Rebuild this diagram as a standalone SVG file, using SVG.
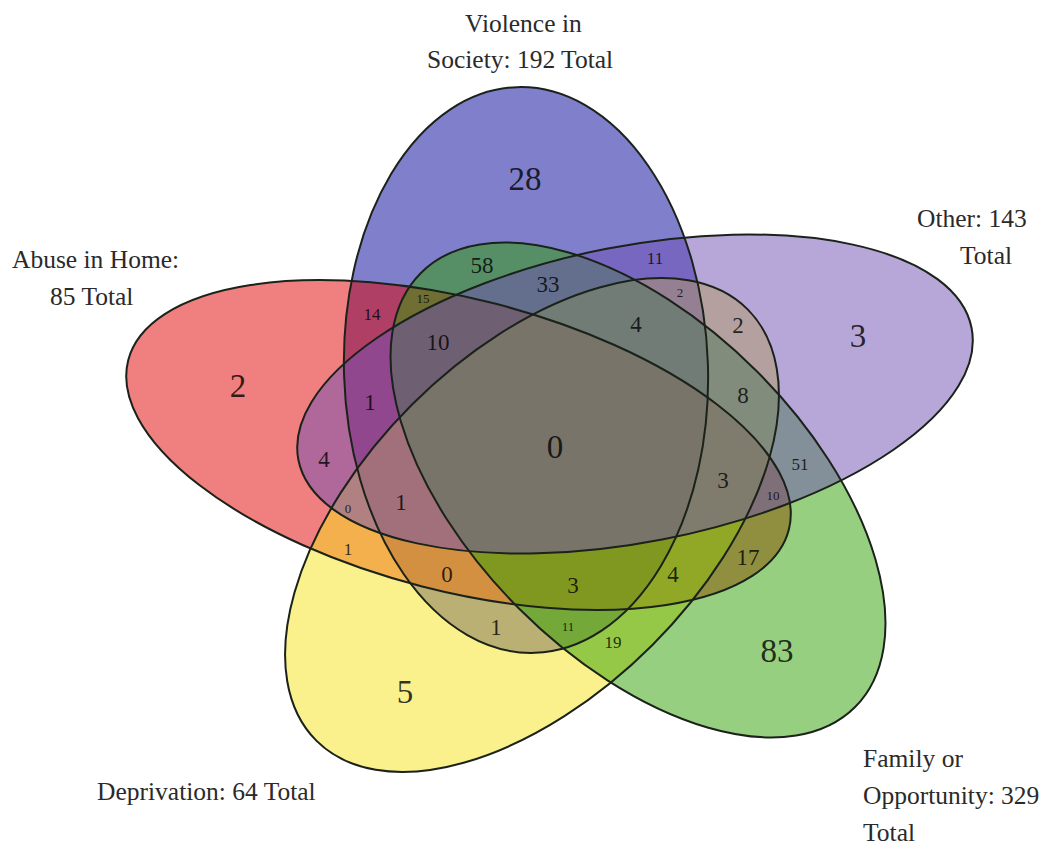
<svg xmlns="http://www.w3.org/2000/svg" width="1048" height="846" viewBox="0 0 1048 846">
<style>
.fill{stroke:none;fill-opacity:0.5}
.outline{fill:none;stroke:#1a221a;stroke-width:2}
.lbl{font-family:"Liberation Serif","Times New Roman",serif;font-size:25.5px;fill:#2a2a2a}
.n{font-family:"Liberation Serif","Times New Roman",serif;fill:#000;fill-opacity:0.8;text-anchor:middle}
.xl{font-size:33px}
.md{font-size:23px}
.sm{font-size:17px}
.xs{font-size:13px}
</style>
<defs>
<ellipse id="e-violence" cx="526" cy="370" rx="182" ry="283" transform="rotate(-1.8 526 370)"/>
<ellipse id="e-abuse" cx="458.5" cy="445" rx="341" ry="146" transform="rotate(14.4 458.5 445)"/>
<ellipse id="e-deprivation" cx="532" cy="525" rx="305" ry="170" transform="rotate(-45 532 525)"/>
<ellipse id="e-family" cx="638" cy="490" rx="307" ry="168" transform="rotate(45 638 490)"/>
<ellipse id="e-other" cx="635" cy="394" rx="343" ry="148" transform="rotate(-11.1 635 394)"/>
</defs>
<rect width="1048" height="846" fill="#ffffff"/>
<g id="violence-in-society">
<use href="#e-violence" class="fill" fill="#00009a"/>
</g>
<g id="abuse-in-home">
<use href="#e-abuse" class="fill" fill="#e10000"/>
</g>
<g id="deprivation">
<use href="#e-deprivation" class="fill" fill="#f5e119"/>
</g>
<g id="family-or-opportunity">
<use href="#e-family" class="fill" fill="#2da000"/>
</g>
<g id="other">
<use href="#e-other" class="fill" fill="#7050b4"/>
</g>
<g id="outlines">
<use href="#e-violence" class="outline"/>
<use href="#e-abuse" class="outline"/>
<use href="#e-deprivation" class="outline"/>
<use href="#e-family" class="outline"/>
<use href="#e-other" class="outline"/>
</g>
<g id="set-labels">
<text class="lbl" x="465" y="32">Violence in</text>
<text class="lbl" x="427" y="68">Society: 192 Total</text>
<text class="lbl" x="917" y="227">Other: 143</text>
<text class="lbl" x="960" y="264">Total</text>
<text class="lbl" x="12" y="268">Abuse in Home:</text>
<text class="lbl" x="50" y="305">85 Total</text>
<text class="lbl" x="97" y="800">Deprivation: 64 Total</text>
<text class="lbl" x="863" y="767">Family or</text>
<text class="lbl" x="863" y="804">Opportunity: 329</text>
<text class="lbl" x="863" y="841">Total</text>
</g>
<g id="counts">
<text class="n xl" x="525" y="190">28</text>
<text class="n md" x="482" y="273">58</text>
<text class="n md" x="548" y="292">33</text>
<text class="n sm" x="655" y="264">11</text>
<text class="n xs" x="423" y="303">15</text>
<text class="n sm" x="372" y="320">14</text>
<text class="n md" x="438" y="350">10</text>
<text class="n md" x="636" y="332">4</text>
<text class="n xs" x="680" y="297">2</text>
<text class="n md" x="738" y="333">2</text>
<text class="n xl" x="858" y="347">3</text>
<text class="n md" x="743" y="403">8</text>
<text class="n sm" x="800" y="470">51</text>
<text class="n xl" x="238" y="397">2</text>
<text class="n md" x="370" y="410">1</text>
<text class="n md" x="324" y="467">4</text>
<text class="n xl" x="555" y="458">0</text>
<text class="n md" x="723" y="488">3</text>
<text class="n xs" x="773" y="500">10</text>
<text class="n xs" x="348" y="513">0</text>
<text class="n md" x="401" y="510">1</text>
<text class="n sm" x="348" y="555">1</text>
<text class="n md" x="748" y="565">17</text>
<text class="n md" x="447" y="582">0</text>
<text class="n md" x="573" y="593">3</text>
<text class="n md" x="673" y="582">4</text>
<text class="n md" x="496" y="635">1</text>
<text class="n xs" x="568" y="631">11</text>
<text class="n sm" x="613" y="648">19</text>
<text class="n xl" x="777" y="662">83</text>
<text class="n xl" x="405" y="703">5</text>
</g>
</svg>
